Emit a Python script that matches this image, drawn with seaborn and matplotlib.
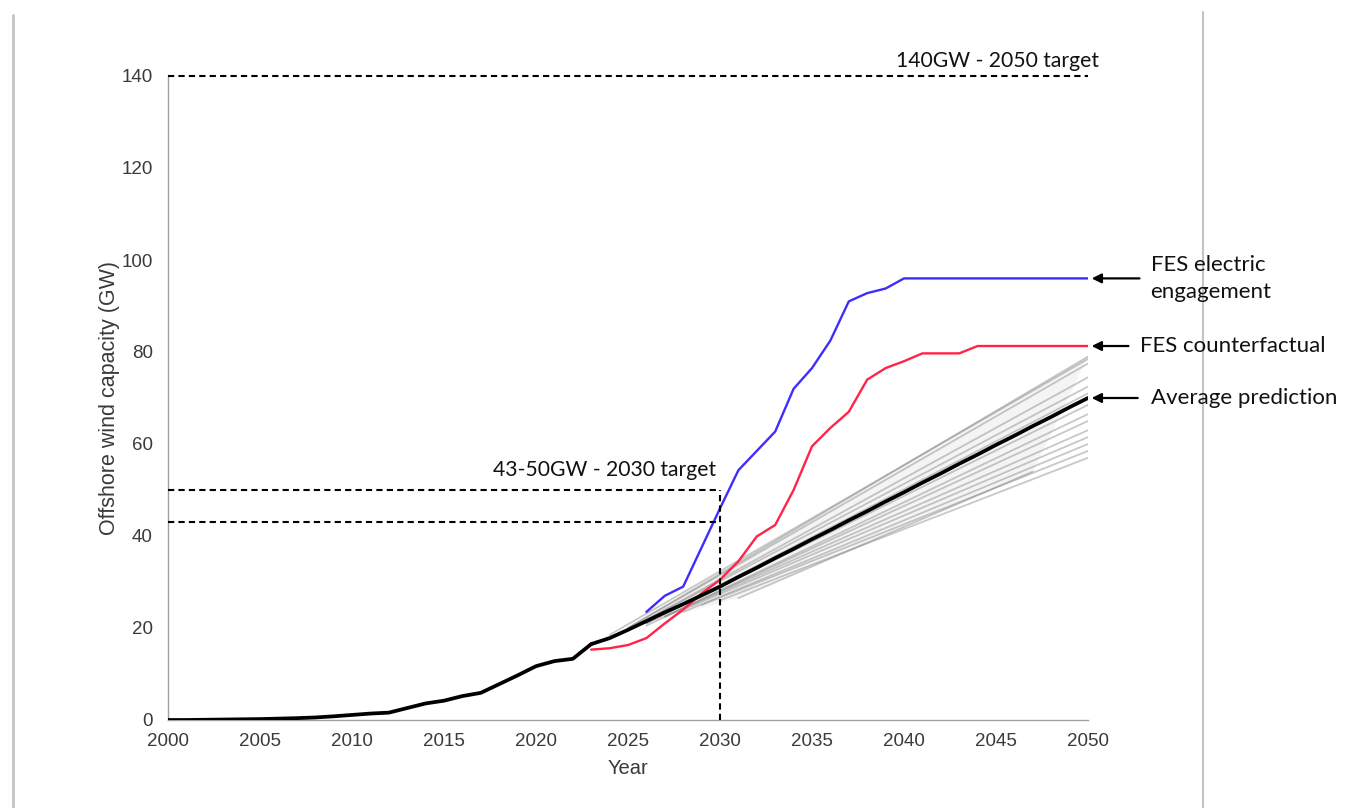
import matplotlib
matplotlib.use("Agg")
import matplotlib.pyplot as plt
import pandas as pd
import seaborn as sns
from matplotlib.lines import Line2D

# Installed UK offshore wind capacity (GW)
hist_years = list(range(2000, 2024))
hist_gw = [0.0, 0.0, 0.05, 0.1, 0.15, 0.2, 0.3, 0.4, 0.55, 0.8, 1.1, 1.4,
           1.6, 2.6, 3.6, 4.2, 5.2, 5.9, 7.8, 9.7, 11.7, 12.8, 13.3, 16.5]

# Average of the model projections
avg_years = list(range(2023, 2051))
avg_gw = [16.5, 17.8, 19.6, 21.5, 23.4, 25.2, 27.1, 29.0, 31.1, 33.1, 35.2,
          37.2, 39.3, 41.3, 43.4, 45.4, 47.5, 49.5, 51.6, 53.6, 55.7, 57.7,
          59.8, 61.8, 63.9, 65.9, 68.0, 70.0]

# FES "electric engagement" scenario
fes_ee_years = list(range(2026, 2051))
fes_ee_gw = [23.5, 27.0, 29.0, 37.5, 46.0, 54.3, 58.5, 62.7, 72.0, 76.5,
             82.5, 91.0, 92.8, 93.8, 96.0, 96.0, 96.0, 96.0, 96.0, 96.0,
             96.0, 96.0, 96.0, 96.0, 96.0]

# FES counterfactual scenario
fes_cf_years = list(range(2023, 2051))
fes_cf_gw = [15.3, 15.6, 16.3, 17.8, 21.0, 24.0, 27.5, 30.5, 34.5, 39.9,
             42.4, 50.0, 59.5, 63.5, 67.0, 74.0, 76.5, 78.0, 79.7, 79.7,
             79.7, 81.3, 81.3, 81.3, 81.3, 81.3, 81.3, 81.3]

# Individual model projections (straight-line trends)
run_start_year = [2024, 2025, 2025, 2025, 2025, 2026, 2026, 2026, 2027, 2027,
                  2028, 2028, 2029, 2030, 2031]
run_start_gw = [18.5, 20.0, 20.0, 19.6, 19.6, 21.0, 21.0, 20.5, 22.5, 22.5,
                24.0, 23.5, 25.0, 26.0, 26.5]
run_end_year = [2050, 2050, 2050, 2050, 2050, 2050, 2050, 2050, 2050, 2050,
                2050, 2050, 2050, 2050, 2047]
run_end_gw = [78.5, 79.0, 77.5, 74.5, 72.5, 71.0, 68.5, 66.5, 65.0, 63.0,
              61.5, 60.0, 58.5, 57.0, 54.0]

target_2050 = 140
target_2030_low, target_2030_high = 43, 50

x_ticks = list(range(2000, 2051, 5))
y_ticks = list(range(0, 141, 20))

sns.set_theme(style="white")
plt.rcParams["font.family"] = ["Liberation Sans", "DejaVu Sans"]
note_font = ["Lato", "DejaVu Sans"]

fig = plt.figure(figsize=(13.45, 8.08), dpi=100)
ax = fig.add_axes([168 / 1345, 1 - 720 / 808, 920 / 1345, 644 / 808])

# spread of individual runs: faint envelope plus each run
top, bot = 1, 14
ax.fill([run_start_year[top], run_end_year[top], run_end_year[bot],
         run_start_year[bot]],
        [run_start_gw[top], run_end_gw[top], run_end_gw[bot],
         run_start_gw[bot]],
        color="#9a9a9a", alpha=0.10, linewidth=0, zorder=1)
rows = []
for i in range(len(run_start_year)):
    rows.append({"run": i, "year": run_start_year[i], "gw": run_start_gw[i]})
    rows.append({"run": i, "year": run_end_year[i], "gw": run_end_gw[i]})
runs = pd.DataFrame(rows)
sns.lineplot(data=runs, x="year", y="gw", units="run", estimator=None,
             color="#858585", alpha=0.45, linewidth=1.3, ax=ax, zorder=2)

sns.lineplot(x=fes_cf_years, y=fes_cf_gw, color="#ff2448", linewidth=1.7,
             ax=ax, zorder=3)
sns.lineplot(x=fes_ee_years, y=fes_ee_gw, color="#3f2cff", linewidth=1.7,
             ax=ax, zorder=3)
sns.lineplot(x=hist_years, y=hist_gw, color="black", linewidth=2.7, ax=ax,
             zorder=5)
sns.lineplot(x=avg_years, y=avg_gw, color="black", linewidth=2.7, ax=ax,
             zorder=5)

# targets
dash = dict(color="black", linewidth=1.5, linestyle=(0, (3, 2)), clip_on=False,
            zorder=4)
ax.plot([2000, 2050], [target_2050, target_2050], **dash)
ax.plot([2000, 2030], [target_2030_high, target_2030_high], **dash)
ax.plot([2000, 2030], [target_2030_low, target_2030_low], **dash)
ax.plot([2030, 2030], [0, target_2030_high], **dash)
ax.text(2050.6, target_2050 + 1.0, "140GW - 2050 target", ha="right",
        va="bottom", fontsize=15.2, family=note_font, color="#111111")
ax.text(2029.8, target_2030_high + 2.2, "43-50GW - 2030 target", ha="right",
        va="bottom", fontsize=15.2, family=note_font, color="#111111")

# labelled arrows at the right-hand end of each scenario
notes = [
    (fes_ee_gw[-1], "FES electric\nengagement", 2052.8, 2053.4),
    (fes_cf_gw[-1], "FES counterfactual", 2052.2, 2052.8),
    (avg_gw[-1], "Average prediction", 2052.7, 2053.4),
]
for yv, label, tail, tx in notes:
    ax.annotate("", xy=(2050.2, yv), xytext=(tail, yv), annotation_clip=False,
                arrowprops=dict(arrowstyle="-|>", color="black", lw=1.6,
                                mutation_scale=14, shrinkA=0, shrinkB=0))
    ax.text(tx, yv, label, ha="left", va="center", fontsize=16,
            family=note_font, color="#111111", linespacing=1.4)

ax.set_xlim(2000, 2050)
ax.set_ylim(0, 140)
ax.set_xticks(x_ticks)
ax.set_yticks(y_ticks)
ax.tick_params(direction="in", length=5, width=0.8, color="#999999",
               labelcolor="#3a3a3a", labelsize=13.5)
ax.tick_params(axis="x", pad=9)
ax.tick_params(axis="y", pad=11)
for side in ("top", "right"):
    ax.spines[side].set_visible(False)
for side in ("left", "bottom"):
    ax.spines[side].set_color("#a0a0a0")
    ax.spines[side].set_linewidth(1.0)
ax.set_xlabel("Year", fontsize=14.5, color="#3a3a3a", labelpad=7)
ax.set_ylabel("Offshore wind capacity (GW)", fontsize=15.5, color="#3a3a3a",
              labelpad=1)

# page frame rules
fig.add_artist(Line2D([13 / 1345, 13 / 1345], [0, 1 - 15 / 808],
                      color="#c4c4c4", linewidth=2))
fig.add_artist(Line2D([1203 / 1345, 1203 / 1345], [0, 1 - 12 / 808],
                      color="#c4c4c4", linewidth=1.5, zorder=0))

fig.savefig("out.png", dpi=100)
